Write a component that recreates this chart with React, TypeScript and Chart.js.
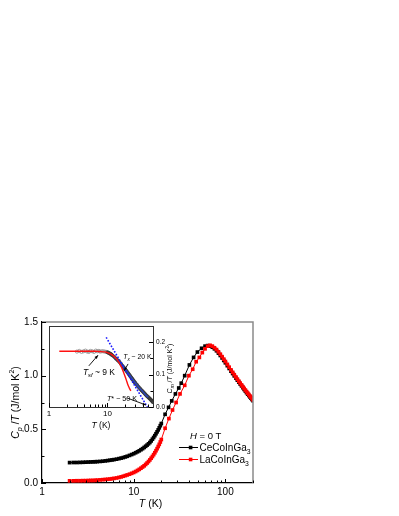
import React, { useEffect, useRef } from "react";
import { Chart, registerables } from "chart.js";
Chart.register(...registerables);

const FAM = '"Liberation Sans", Arial, sans-serif';

// ---------- Main data ----------
const ceT = [2.0,2.2,2.4,2.6,2.8,3.0,3.2,3.4,3.6,3.8,4.0,4.3,4.6,4.9,5.2,5.5,5.8,6.1,6.5,6.9,7.3,7.7,8.1,8.5,9.0,9.5,10,10.5,11,11.5,12,12.5,13,13.5,14,14.5,15,15.5,16,16.5,17,17.5,18,18.5,19,19.5,20,22,24,26,28.5,31,33,36,40.5,45,49.5,55,60,64,68,72,76,80,84,88,92,96,100,105,110,115,120,125,130,135,140,145,150,155,160,165,170,175,180,185,190,195,200];
const ceCp = [0.190,0.191,0.191,0.192,0.193,0.194,0.195,0.196,0.197,0.198,0.199,0.201,0.203,0.206,0.209,0.212,0.215,0.218,0.222,0.227,0.232,0.237,0.243,0.249,0.257,0.265,0.273,0.282,0.291,0.300,0.310,0.320,0.331,0.342,0.353,0.365,0.377,0.392,0.408,0.424,0.441,0.459,0.477,0.495,0.514,0.534,0.554,0.64,0.705,0.765,0.83,0.885,0.93,1.00,1.10,1.17,1.22,1.255,1.275,1.28,1.275,1.265,1.25,1.232,1.21,1.188,1.165,1.142,1.12,1.093,1.067,1.042,1.02,0.998,0.978,0.958,0.94,0.922,0.905,0.888,0.872,0.857,0.842,0.828,0.815,0.802,0.79,0.778,0.766];
const laT = [2.0,2.2,2.4,2.6,2.8,3.0,3.2,3.4,3.6,3.8,4.0,4.3,4.6,4.9,5.2,5.5,5.8,6.1,6.5,6.9,7.3,7.7,8.1,8.5,9.0,9.5,10,10.5,11,11.5,12,12.5,13,13.5,14,14.5,15,15.5,16,16.5,17,17.5,18,18.5,19,19.5,20,22,24.2,26.5,29,32,36,40,44,48,52,56,60,64,68,72,76,80,84,88,92,96,100,105,110,115,120,125,130,135,140,145,150,155,160,165,170,175,180,185,190,195,200];
const laCp = [0.020,0.020,0.021,0.021,0.022,0.022,0.023,0.024,0.024,0.025,0.027,0.029,0.031,0.033,0.035,0.037,0.040,0.043,0.047,0.052,0.057,0.063,0.069,0.075,0.082,0.090,0.098,0.107,0.117,0.127,0.138,0.149,0.160,0.173,0.186,0.200,0.215,0.231,0.247,0.264,0.282,0.301,0.320,0.340,0.360,0.382,0.405,0.51,0.60,0.68,0.75,0.83,0.91,1.00,1.06,1.13,1.17,1.215,1.25,1.275,1.283,1.275,1.26,1.243,1.222,1.2,1.177,1.154,1.132,1.105,1.079,1.054,1.031,1.009,0.988,0.968,0.949,0.931,0.914,0.897,0.881,0.866,0.851,0.837,0.824,0.811,0.799,0.787,0.775];

const mainXLabels = [1, 10, 100];
const mainXMinor = [2,3,4,5,6,7,8,9,20,30,40,50,60,70,80,90,200];
const mainYMajor = [0, 0.5, 1.0, 1.5];
const mainYMinor = [0.25, 0.75, 1.25];

// ---------- Inset data ----------
const insT = [3.0,3.3,3.6,3.9,4.2,4.5,4.8,5.1,5.5,5.9,6.3,6.7,7.1,7.5,8,8.5,9,9.5,10,10.5,11,11.5,12,13,14,15,16,17,18,19,20,21,22,23,24,25,26,27,28,29,30,32,34,36,38,40,42,44,46,48,50,52,54,56,58,60];
const insCm = [0.171,0.173,0.170,0.172,0.174,0.171,0.170,0.173,0.172,0.170,0.174,0.172,0.173,0.171,0.172,0.172,0.171,0.170,0.169,0.167,0.165,0.163,0.160,0.155,0.149,0.144,0.139,0.133,0.127,0.122,0.117,0.112,0.107,0.102,0.098,0.093,0.089,0.085,0.081,0.077,0.074,0.068,0.062,0.057,0.052,0.048,0.044,0.040,0.036,0.033,0.030,0.027,0.024,0.021,0.018,0.015];
const redFitT = [1.5,2,3,4,5,6,7,8,9,10,11,12,13,14,15,16,17,18,19,20,21,22,23,24,25];
const redFitCm = [0.172,0.172,0.172,0.172,0.172,0.172,0.1715,0.171,0.170,0.168,0.165,0.161,0.156,0.150,0.143,0.135,0.126,0.116,0.105,0.094,0.083,0.072,0.063,0.056,0.050];
const blueFitT = [13,15,17,20,23,26,30,35,40,45,50];
const blueFitCm = [0.155,0.144,0.133,0.117,0.102,0.089,0.074,0.059,0.048,0.037,0.030];
const dotT = [9.5, 48];
const dotCm = [0.215, 0.0];

const insXLabels = [1, 10];
const insXMinor = [2,3,4,5,6,7,8,9,20,30,40,50];
const insYMajor = [0, 0.1, 0.2];
const insYMinor = [0.05, 0.15];

type Seg = { t: string; it?: boolean; sub?: boolean; sup?: boolean };

function segFont(s: Seg, size: number) {
  const sz = s.sub || s.sup ? size * 0.68 : size;
  return `${s.it ? "italic " : ""}${sz}px ${FAM}`;
}
function richWidth(ctx: CanvasRenderingContext2D, segs: Seg[], size: number) {
  let w = 0;
  for (const s of segs) { ctx.font = segFont(s, size); w += ctx.measureText(s.t).width; }
  return w;
}
function drawRich(ctx: CanvasRenderingContext2D, segs: Seg[], x: number, y: number, size: number, align: "left" | "center" = "left", color = "#000") {
  ctx.save();
  ctx.fillStyle = color;
  ctx.textBaseline = "alphabetic";
  ctx.textAlign = "left";
  const w = richWidth(ctx, segs, size);
  let cx = align === "center" ? x - w / 2 : x;
  for (const s of segs) {
    ctx.font = segFont(s, size);
    const dy = s.sub ? size * 0.3 : s.sup ? -size * 0.42 : 0;
    ctx.fillText(s.t, cx, y + dy);
    cx += ctx.measureText(s.t).width;
  }
  ctx.restore();
}
function drawArrow(ctx: CanvasRenderingContext2D, x1: number, y1: number, x2: number, y2: number, head = 4) {
  ctx.save();
  ctx.strokeStyle = "#000";
  ctx.fillStyle = "#000";
  ctx.lineWidth = 0.9;
  ctx.beginPath(); ctx.moveTo(x1, y1); ctx.lineTo(x2, y2); ctx.stroke();
  const a = Math.atan2(y2 - y1, x2 - x1);
  ctx.beginPath();
  ctx.moveTo(x2, y2);
  ctx.lineTo(x2 - head * Math.cos(a - 0.4), y2 - head * Math.sin(a - 0.4));
  ctx.lineTo(x2 - head * Math.cos(a + 0.4), y2 - head * Math.sin(a + 0.4));
  ctx.closePath(); ctx.fill();
  ctx.restore();
}

function innerTicks(chart: any, xMaj: number[], xMin: number[], yMaj: number[], yMin: number[], yRight: boolean) {
  const ctx = chart.ctx as CanvasRenderingContext2D;
  const { left, right, bottom } = chart.chartArea;
  const xs = chart.scales.x, ys = chart.scales.y;
  ctx.save();
  ctx.strokeStyle = "#000";
  ctx.lineWidth = 1;
  ctx.beginPath();
  const xt = (v: number, len: number) => { const p = Math.round(xs.getPixelForValue(v)) + 0.5; ctx.moveTo(p, bottom); ctx.lineTo(p, bottom - len); };
  const yt = (v: number, len: number) => { const p = Math.round(ys.getPixelForValue(v)) + 0.5; const bx = yRight ? right : left; ctx.moveTo(bx, p); ctx.lineTo(yRight ? bx - len : bx + len, p); };
  xMaj.forEach(v => xt(v, 4)); xMin.forEach(v => xt(v, 2.5));
  yMaj.forEach(v => yt(v, 4)); yMin.forEach(v => yt(v, 2.5));
  ctx.stroke();
  ctx.restore();
}

export default function App() {
  const mainRef = useRef<HTMLCanvasElement>(null);
  const insRef = useRef<HTMLCanvasElement>(null);

  useEffect(() => {
    const mainDecor = {
      id: "mainDecor",
      afterDraw(chart: any) {
        const ctx = chart.ctx as CanvasRenderingContext2D;
        const { left, right, top, bottom } = chart.chartArea;
        ctx.save();
        ctx.strokeStyle = "#8a8a8a";
        ctx.lineWidth = 1.5;
        ctx.beginPath();
        ctx.moveTo(left, top); ctx.lineTo(right, top); ctx.lineTo(right, bottom);
        ctx.stroke();
        ctx.restore();
        innerTicks(chart, mainXLabels, mainXMinor, mainYMajor, mainYMinor, false);
        // axis titles
        drawRich(ctx, [{ t: "T", it: true }, { t: " (K)" }], (left + right) / 2 + 3, 507, 10.5, "center");
        ctx.save();
        ctx.translate(15, (top + bottom) / 2);
        ctx.rotate(-Math.PI / 2);
        drawRich(ctx, [{ t: "C", it: true }, { t: "p", it: true, sub: true }, { t: " /" }, { t: "T", it: true }, { t: " (J/mol K" }, { t: "2", sup: true }, { t: ")" }], 0, 3.5, 10.5, "center");
        ctx.restore();
        // legend
        drawRich(ctx, [{ t: "H", it: true }, { t: " = 0 T" }], 190, 438.5, 9.5);
        const entries = [
          { c: "#000", segs: [{ t: "CeCoInGa" }, { t: "3", sub: true }], y: 447.5 },
          { c: "#ff0000", segs: [{ t: "LaCoInGa" }, { t: "3", sub: true }], y: 459.5 },
        ];
        for (const e of entries) {
          ctx.save();
          ctx.strokeStyle = e.c; ctx.fillStyle = e.c; ctx.lineWidth = 1;
          ctx.beginPath(); ctx.moveTo(179, e.y); ctx.lineTo(198, e.y); ctx.stroke();
          ctx.fillRect(188.8, e.y - 1.8, 3.6, 3.6);
          ctx.restore();
          drawRich(ctx, e.segs as Seg[], 199.5, e.y + 3.5, 10);
        }
      },
    };

    const main = new Chart(mainRef.current!, {
      type: "line",
      data: {
        datasets: [
          {
            label: "LaCoInGa3",
            data: laT.map((t, i) => ({ x: t, y: laCp[i] })),
            borderColor: "#ff0000",
            backgroundColor: "#ff0000",
            borderWidth: 1,
            pointStyle: "rect",
            pointRadius: 2.6,
            pointBorderWidth: 0,
            order: 0,
          },
          {
            label: "CeCoInGa3",
            data: ceT.map((t, i) => ({ x: t, y: ceCp[i] })),
            borderColor: "#000",
            backgroundColor: "#000",
            borderWidth: 1,
            pointStyle: "rect",
            pointRadius: 2.6,
            pointBorderWidth: 0,
            order: 1,
          },
        ],
      },
      options: {
        responsive: false,
        animation: false,
        layout: { padding: { left: 0, top: 322, right: 146, bottom: 0 } },
        plugins: { legend: { display: false }, tooltip: { enabled: false } },
        scales: {
          x: {
            type: "logarithmic",
            min: 1,
            max: 200,
            grid: { display: false, drawTicks: false },
            border: { display: true, color: "#000", width: 1.2 },
            ticks: {
              autoSkip: false,
              maxRotation: 0,
              padding: 3,
              color: "#000",
              font: { family: FAM, size: 10 },
              callback: (v: any) => (mainXLabels.includes(Number(v)) ? String(v) : ""),
            },
            afterFit: (s: any) => { s.height = 33; },
          },
          y: {
            min: 0,
            max: 1.5,
            grid: { display: false, drawTicks: false },
            border: { display: true, color: "#000", width: 1.2 },
            ticks: {
              stepSize: 0.5,
              padding: 4,
              color: "#000",
              font: { family: FAM, size: 10 },
              callback: (v: any) => Number(v).toFixed(1),
            },
            afterFit: (s: any) => { s.width = 42; },
          },
        },
      },
      plugins: [mainDecor],
    } as any);

    const insDecor = {
      id: "insDecor",
      afterDraw(chart: any) {
        const ctx = chart.ctx as CanvasRenderingContext2D;
        const { left, right, top, bottom } = chart.chartArea;
        const xs = chart.scales.x, ys = chart.scales.y;
        ctx.save();
        ctx.strokeStyle = "#333";
        ctx.lineWidth = 1;
        ctx.strokeRect(left + 0.5, top + 0.5, right - left, bottom - top);
        ctx.restore();
        innerTicks(chart, insXLabels, insXMinor, insYMajor, insYMinor, true);
        drawRich(ctx, [{ t: "T", it: true }, { t: " (K)" }], (left + right) / 2, 428, 8.5, "center");
        ctx.save();
        ctx.translate(right + 16, (top + bottom) / 2 + 2);
        ctx.rotate(-Math.PI / 2);
        drawRich(ctx, [{ t: "C", it: true }, { t: "m", it: true, sub: true }, { t: " /" }, { t: "T", it: true }, { t: " (J/mol K" }, { t: "2", sup: true }, { t: ")" }], 0, 2.5, 7, "center");
        ctx.restore();
        const P = (T: number, v: number) => [xs.getPixelForValue(T), ys.getPixelForValue(v)];
        // T_sf
        let [ax, ay] = P(3.8, 0.099);
        drawRich(ctx, [{ t: "T", it: true }, { t: "sf", it: true, sub: true }, { t: " ~ 9 K" }], ax, ay, 8.5);
        let [a1, b1] = P(4.8, 0.127); let [a2, b2] = P(6.9, 0.160);
        drawArrow(ctx, a1, b1, a2, b2);
        // T_x
        [ax, ay] = P(18.6, 0.147);
        drawRich(ctx, [{ t: "T", it: true }, { t: "x", it: true, sub: true }, { t: " ~ 20 K" }], ax, ay, 6.8);
        [a1, b1] = P(22.5, 0.133); [a2, b2] = P(19.3, 0.112);
        drawArrow(ctx, a1, b1, a2, b2, 3.5);
        // T*
        [ax, ay] = P(9.8, 0.0185);
        drawRich(ctx, [{ t: "T", it: true }, { t: "*" }, { t: " ~ 50 K" }], ax, ay, 7.2);
        [a1, b1] = P(21.6, 0.028); [a2, b2] = P(45.5, 0.006);
        drawArrow(ctx, a1, b1, a2, b2, 3.5);
      },
    };

    const inset = new Chart(insRef.current!, {
      type: "line",
      data: {
        datasets: [
          {
            label: "dotted",
            data: dotT.map((t, i) => ({ x: t, y: dotCm[i] })),
            borderColor: "#1a1aff",
            borderWidth: 1.6,
            borderDash: [1.6, 1.6],
            pointRadius: 0,
            order: 0,
          },
          {
            label: "redfit",
            data: redFitT.map((t, i) => ({ x: t, y: redFitCm[i] })),
            borderColor: "#ff1010",
            borderWidth: 1.4,
            pointRadius: 0,
            tension: 0.3,
            order: 1,
          },
          {
            label: "bluefit",
            data: blueFitT.map((t, i) => ({ x: t, y: blueFitCm[i] })),
            borderColor: "rgba(40,70,200,0.85)",
            borderWidth: 1.5,
            pointRadius: 0,
            tension: 0.3,
            order: 2,
          },
          {
            label: "data",
            data: insT.map((t, i) => ({ x: t, y: insCm[i] })),
            showLine: false,
            pointStyle: "circle",
            pointRadius: 1.6,
            pointBorderWidth: 0.8,
            pointBorderColor: (c: any) => (c.raw && c.raw.x < 10 ? "#8a8a8a" : "#333"),
            pointBackgroundColor: (c: any) => (c.raw && c.raw.x < 10 ? "rgba(255,255,255,0)" : "#444"),
            order: 3,
          },
        ],
      },
      options: {
        responsive: false,
        animation: false,
        layout: { padding: { left: 49, top: 326, right: 226, bottom: 89 } },
        plugins: { legend: { display: false }, tooltip: { enabled: false } },
        scales: {
          x: {
            type: "logarithmic",
            min: 1,
            max: 60,
            grid: { display: false, drawTicks: false },
            border: { display: false },
            ticks: {
              autoSkip: false,
              maxRotation: 0,
              padding: 2,
              color: "#000",
              font: { family: FAM, size: 8 },
              callback: (v: any) => (insXLabels.includes(Number(v)) ? String(v) : ""),
            },
            afterFit: (s: any) => { s.height = 20; },
          },
          y: {
            position: "right",
            min: 0,
            max: 0.25,
            grid: { display: false, drawTicks: false },
            border: { display: false },
            ticks: {
              stepSize: 0.1,
              padding: 3,
              color: "#000",
              font: { family: FAM, size: 6.5 },
              callback: (v: any) => (Number(v) > 0.22 ? "" : Number(v).toFixed(1)),
            },
            afterFit: (s: any) => { s.width = 20; },
          },
        },
      },
      plugins: [insDecor],
    } as any);

    return () => {
      main.destroy();
      inset.destroy();
    };
  }, []);

  return (
    <div style={{ position: "fixed", left: 0, top: 0, width: 399, height: 516, background: "#fff" }}>
      <canvas ref={mainRef} width={399} height={516} style={{ position: "absolute", left: 0, top: 0, width: 399, height: 516 }} />
      <canvas ref={insRef} width={399} height={516} style={{ position: "absolute", left: 0, top: 0, width: 399, height: 516, pointerEvents: "none" }} />
    </div>
  );
}
